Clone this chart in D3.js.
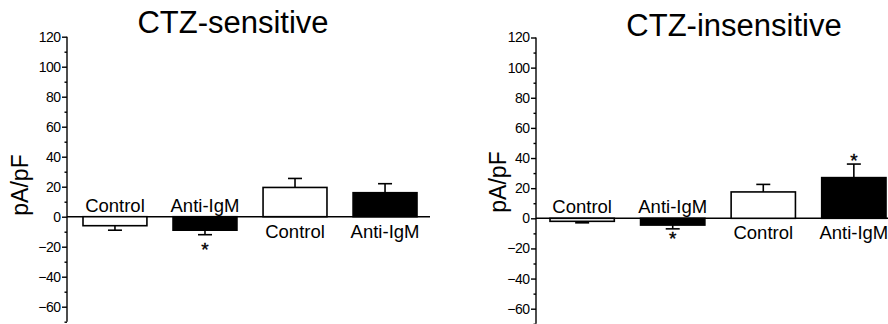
<!DOCTYPE html>
<html>
<head>
<meta charset="utf-8">
<script src="https://cdn.jsdelivr.net/npm/d3@7"></script>
<style>
  html, body { margin: 0; padding: 0; background: #fff; }
  svg { display: block; font-family: Arial, "Liberation Sans", sans-serif; }
</style>
</head>
<body>
<svg id="chart" width="888" height="324"></svg>
<script>
// ---- data ----
const categories = ["Control", "Anti-IgM", "Control", "Anti-IgM"];
const barFills = ["white", "black", "white", "black"];
const yTicks = [-60, -40, -20, 0, 20, 40, 60, 80, 100, 120];
const yMinorTicks = [-70, -50, -30, -10, 10, 30, 50, 70, 90, 110];

const sensTitle = "CTZ-sensitive";
const sensMeans = [-6, -9, 19.5, 16];
const sensErr = [3, 3, 6, 6];
const sensStars = [false, true, false, false];

const insensTitle = "CTZ-insensitive";
const insensMeans = [-2, -4.5, 17.5, 27];
const insensErr = [1, 2.5, 5, 9];
const insensStars = [false, true, false, true];

const yLabel = "pA/pF";

// ---- layout ----
const panels = [
  { title: sensTitle, means: sensMeans, errs: sensErr, stars: sensStars,
    axisX: 67, yTop: 36.7, yZero: 216.7, barRange: [83, 417], zeroEnd: 430,
    titleX: 233, titleY: 33, ylabX: 28, ylabY: 185, gapBelow: 10, gapAbove: 9 },
  { title: insensTitle, means: insensMeans, errs: insensErr, stars: insensStars,
    axisX: 536, yTop: 37.5, yZero: 218.3, barRange: [550, 886], zeroEnd: 888,
    titleX: 734, titleY: 36, ylabX: 506, ylabY: 182, gapBelow: 5, gapAbove: 8 }
];

const svg = d3.select("#chart");

panels.forEach(p => {
  const g = svg.append("g");
  const pxPerUnit = (p.yZero - p.yTop) / 120;
  const y = d3.scaleLinear().domain([-70, 120])
    .range([p.yZero + 70 * pxPerUnit, p.yTop]);
  const x = d3.scaleBand().domain(d3.range(categories.length))
    .range(p.barRange).paddingInner(0.29).paddingOuter(0);

  // title
  g.append("text").attr("x", p.titleX).attr("y", p.titleY)
    .attr("text-anchor", "middle").attr("font-size", 31).attr("fill", "#000")
    .text(p.title);

  // y axis
  const axis = d3.axisLeft(y).tickValues(yTicks).tickSize(5).tickPadding(1.5)
    .tickFormat(d3.format("d"));
  const ag = g.append("g").attr("transform", `translate(${p.axisX},0)`).call(axis);
  ag.attr("font-size", 14);
  ag.select(".domain").attr("d", `M0,${y(-70)}V${y(120)}`).attr("stroke", "#000").attr("stroke-width", 1.4);
  ag.selectAll(".tick line").attr("stroke", "#000").attr("stroke-width", 1.4);
  ag.selectAll(".tick text").attr("font-size", 14).attr("fill", "#000")
    .attr("font-family", "Arial, 'Liberation Sans', sans-serif")
    .attr("letter-spacing", -0.5);
  const minor = d3.axisLeft(y).tickValues(yMinorTicks).tickSize(2.5).tickFormat("");
  const mg = g.append("g").attr("transform", `translate(${p.axisX},0)`).call(minor);
  mg.select(".domain").remove();
  mg.selectAll(".tick line").attr("stroke", "#000").attr("stroke-width", 1.4);

  // y label
  g.append("text")
    .attr("transform", `translate(${p.ylabX},${p.ylabY}) rotate(-90)`)
    .attr("text-anchor", "middle").attr("font-size", 23).attr("fill", "#000")
    .text(yLabel);

  // zero line
  g.append("line").attr("x1", p.axisX).attr("x2", p.zeroEnd)
    .attr("y1", y(0)).attr("y2", y(0)).attr("stroke", "#000").attr("stroke-width", 1.4);

  const idx = d3.range(categories.length);

  // error bars
  const eg = g.append("g").attr("stroke", "#000").attr("stroke-width", 1.6);
  idx.forEach(i => {
    const m = p.means[i], e = p.errs[i] * Math.sign(m);
    const cx = x(i) + x.bandwidth() / 2;
    eg.append("line").attr("x1", cx).attr("x2", cx).attr("y1", y(m)).attr("y2", y(m + e));
    eg.append("line").attr("x1", cx - 7).attr("x2", cx + 7).attr("y1", y(m + e)).attr("y2", y(m + e));
  });

  // bars
  g.selectAll("rect.bar").data(idx).join("rect").attr("class", "bar")
    .attr("x", i => x(i)).attr("width", x.bandwidth())
    .attr("y", i => Math.min(y(p.means[i]), y(0)))
    .attr("height", i => Math.abs(y(p.means[i]) - y(0)))
    .attr("fill", i => barFills[i]).attr("stroke", "#000").attr("stroke-width", 1.6);

  // category labels
  g.selectAll("text.cat").data(idx).join("text").attr("class", "cat")
    .attr("x", i => x(i) + x.bandwidth() / 2)
    .attr("y", i => p.means[i] < 0 ? y(0) - 5 : y(0) + 21)
    .attr("text-anchor", "middle").attr("font-size", 18.5).attr("fill", "#000")
    .text(i => categories[i]);

  // significance stars
  const starSize = 19;
  g.selectAll("text.star").data(idx.filter(i => p.stars[i])).join("text").attr("class", "star")
    .attr("x", i => x(i) + x.bandwidth() / 2)
    .attr("y", i => {
      const m = p.means[i], e = p.errs[i] * Math.sign(m);
      const cap = y(m + e);
      return (m < 0 ? cap + p.gapBelow : cap - p.gapAbove) + 0.57 * starSize;
    })
    .attr("text-anchor", "middle").attr("font-size", starSize).attr("fill", "#000")
    .attr("stroke", "#000").attr("stroke-width", 0.4)
    .text("*");
});
</script>
</body>
</html>
